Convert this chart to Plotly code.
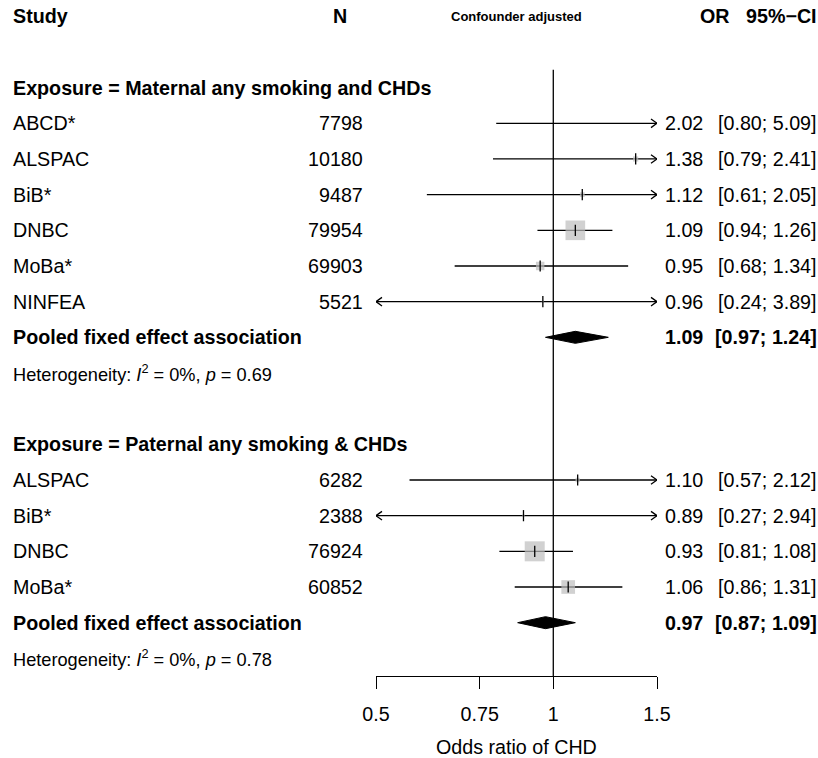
import numpy as np
import plotly.graph_objects as go

# ---- data -------------------------------------------------------------
mat_study = ["ABCD*", "ALSPAC", "BiB*", "DNBC", "MoBa*", "NINFEA"]
mat_n = [7798, 10180, 9487, 79954, 69903, 5521]
mat_or = [2.02, 1.38, 1.12, 1.09, 0.95, 0.96]
mat_lo = [0.80, 0.79, 0.61, 0.94, 0.68, 0.24]
mat_hi = [5.09, 2.41, 2.05, 1.26, 1.34, 3.89]
mat_pooled = [1.09, 0.97, 1.24]          # OR, lower, upper
mat_het = ["0%", "0.69"]                 # I^2, p

pat_study = ["ALSPAC", "BiB*", "DNBC", "MoBa*"]
pat_n = [6282, 2388, 76924, 60852]
pat_or = [1.10, 0.89, 0.93, 1.06]
pat_lo = [0.57, 0.27, 0.81, 0.86]
pat_hi = [2.12, 2.94, 1.08, 1.31]
pat_pooled = [0.97, 0.87, 1.09]
pat_het = ["0%", "0.78"]

tick_vals = [0.5, 0.75, 1, 1.5]
tick_text = ["0.5", "0.75", "1", "1.5"]

# ---- geometry ---------------------------------------------------------
W, H = 818, 758
PLOT_L, PLOT_R = 376, 657
PLOT_T, PLOT_B = 0, 676
ROW0, ROW_H = 123.3, 35.67          # pixel centre of first study row, row pitch
XMIN, XMAX = 0.5, 1.5
PX_PER_DEC = (PLOT_R - PLOT_L) / (np.log10(XMAX) - np.log10(XMIN))

FONT = "Liberation Sans, Arial, Helvetica, sans-serif"
FS = 19.7
FS_HET = 18.2
GREY = "#BEBEBE"
LW = 1.3


def px_x(px):
    """horizontal pixel -> paper coordinate"""
    return (px - PLOT_L) / (PLOT_R - PLOT_L)


def px_y(py):
    """vertical pixel -> paper coordinate"""
    return (PLOT_B - py) / (PLOT_B - PLOT_T)


# row layout
HEADER_ROW = -3
groups = [
    dict(title="Exposure = Maternal any smoking and CHDs", start=-1,
         study=mat_study, n=mat_n, est=mat_or, lo=mat_lo, hi=mat_hi,
         pooled=mat_pooled, het=mat_het),
    dict(title="Exposure = Paternal any smoking & CHDs", start=9,
         study=pat_study, n=pat_n, est=pat_or, lo=pat_lo, hi=pat_hi,
         pooled=pat_pooled, het=pat_het),
]

# square size proportional to sqrt(inverse-variance weight)
all_lo = np.array(mat_lo + pat_lo)
all_hi = np.array(mat_hi + pat_hi)
se_all = (np.log(all_hi) - np.log(all_lo)) / (2 * 1.959964)
SE_MIN = se_all.min()
SQ_MAX = 20

fig = go.Figure()
ann = []

LEFT = 11      # left text column
N_RIGHT = 365  # right edge of N column
OR_RIGHT = 705
CI_RIGHT = 819


def add_text(text, px, row, anchor="left", size=FS, bold=False):
    if bold:
        text = "<b>" + text + "</b>"
    ann.append(dict(text=text, x=px_x(px), y=row, xref="paper", yref="y",
                    xanchor=anchor, yanchor="middle", showarrow=False,
                    font=dict(family=FONT, size=size, color="black")))


# header
add_text("Study", LEFT, HEADER_ROW, bold=True)
add_text("N", 340, HEADER_ROW, anchor="center", bold=True)
add_text("Confounder adjusted", 516.5, HEADER_ROW, anchor="center", size=13, bold=True)
add_text("OR", 732, HEADER_ROW, anchor="right", bold=True)
add_text("95%\u2212CI", CI_RIGHT, HEADER_ROW, anchor="right", bold=True)

ci_x, ci_y = [], []
arr_x, arr_y = [], []
sq_x, sq_y, sq_s = [], [], []
tk_x, tk_y = [], []
dia_x, dia_y = [], []

ARROW_LEN = 6 / PX_PER_DEC      # decades
ARROW_HALF = 4.3 / ROW_H        # rows
DIA_HALF = 6 / ROW_H

for g in groups:
    r = g["start"]
    add_text(g["title"], LEFT, r, bold=True)
    for i, name in enumerate(g["study"]):
        row = r + 1 + i
        lo, hi, est = g["lo"][i], g["hi"][i], g["est"][i]
        add_text(name, LEFT, row)
        add_text(str(g["n"][i]), N_RIGHT, row, anchor="right")
        add_text(f"{est:.2f}", OR_RIGHT, row, anchor="right")
        add_text(f"[{lo:.2f}; {hi:.2f}]", CI_RIGHT, row, anchor="right")
        # confidence interval, truncated to the axis limits
        ci_x += [max(lo, XMIN), min(hi, XMAX), None]
        ci_y += [row, row, None]
        if hi > XMAX:
            b = np.log10(XMAX)
            arr_x += [10 ** (b - ARROW_LEN), XMAX, 10 ** (b - ARROW_LEN), None]
            arr_y += [row - ARROW_HALF, row, row + ARROW_HALF, None]
        if lo < XMIN:
            b = np.log10(XMIN)
            arr_x += [10 ** (b + ARROW_LEN), XMIN, 10 ** (b + ARROW_LEN), None]
            arr_y += [row - ARROW_HALF, row, row + ARROW_HALF, None]
        if XMIN <= est <= XMAX:
            se = (np.log(hi) - np.log(lo)) / (2 * 1.959964)
            sq_x.append(est)
            sq_y.append(row)
            sq_s.append(SQ_MAX * SE_MIN / se)
            tk_x.append(est)
            tk_y.append(row)
    prow = r + 1 + len(g["study"])
    pe, plo, phi = g["pooled"]
    add_text("Pooled fixed effect association", LEFT, prow, bold=True)
    add_text(f"{pe:.2f}", OR_RIGHT, prow, anchor="right", bold=True)
    add_text(f"[{plo:.2f}; {phi:.2f}]", CI_RIGHT, prow, anchor="right", bold=True)
    dia_x += [plo, pe, phi, pe, plo, None]
    dia_y += [prow, prow - DIA_HALF, prow, prow + DIA_HALF, prow, None]
    hrow = prow + 1
    add_text(f"Heterogeneity: <i>I</i><sup>2</sup> = {g['het'][0]}, <i>p</i> = {g['het'][1]}",
             LEFT, hrow, size=FS_HET)

# reference line at OR = 1
fig.add_trace(go.Scatter(x=[1, 1], y=[-1.5, 15.5], mode="lines",
                         line=dict(color="black", width=LW), hoverinfo="skip"))
# confidence intervals
fig.add_trace(go.Scatter(x=ci_x, y=ci_y, mode="lines",
                         line=dict(color="black", width=LW), hoverinfo="skip"))
# arrowheads for truncated intervals
fig.add_trace(go.Scatter(x=arr_x, y=arr_y, mode="lines",
                         line=dict(color="black", width=LW), hoverinfo="skip"))
# weight squares
fig.add_trace(go.Scatter(x=sq_x, y=sq_y, mode="markers",
                         marker=dict(symbol="square", size=sq_s, color=GREY,
                                     line=dict(width=0)), hoverinfo="skip"))
# point estimate ticks
fig.add_trace(go.Scatter(x=tk_x, y=tk_y, mode="markers",
                         marker=dict(symbol="line-ns", size=8,
                                     line=dict(color="black", width=LW)),
                         hoverinfo="skip"))
# pooled diamonds
fig.add_trace(go.Scatter(x=dia_x, y=dia_y, mode="lines", fill="toself",
                         fillcolor="black", line=dict(color="black", width=1),
                         hoverinfo="skip"))

# axis title
ann.append(dict(text="Odds ratio of CHD", x=0.5, y=px_y(747),
                xref="paper", yref="paper", xanchor="center", yanchor="middle",
                showarrow=False, font=dict(family=FONT, size=FS, color="black")))

fig.update_layout(
    width=W, height=H,
    margin=dict(l=PLOT_L, r=W - PLOT_R, t=PLOT_T, b=H - PLOT_B, pad=0),
    paper_bgcolor="white", plot_bgcolor="white",
    showlegend=False,
    annotations=ann,
    xaxis=dict(type="log", range=[np.log10(XMIN), np.log10(XMAX)],
               tickvals=tick_vals, ticktext=tick_text,
               ticks="outside", ticklen=12, tickwidth=LW, tickcolor="black",
               showline=True, linecolor="black", linewidth=LW,
               showgrid=False, zeroline=False, fixedrange=True,
               tickfont=dict(family=FONT, size=FS, color="black"),
               ticklabelstandoff=8),
    yaxis=dict(range=[(PLOT_B - ROW0) / ROW_H, (PLOT_T - ROW0) / ROW_H],
               visible=False, showgrid=False, zeroline=False, fixedrange=True),
)

fig.write_html("out.html")
